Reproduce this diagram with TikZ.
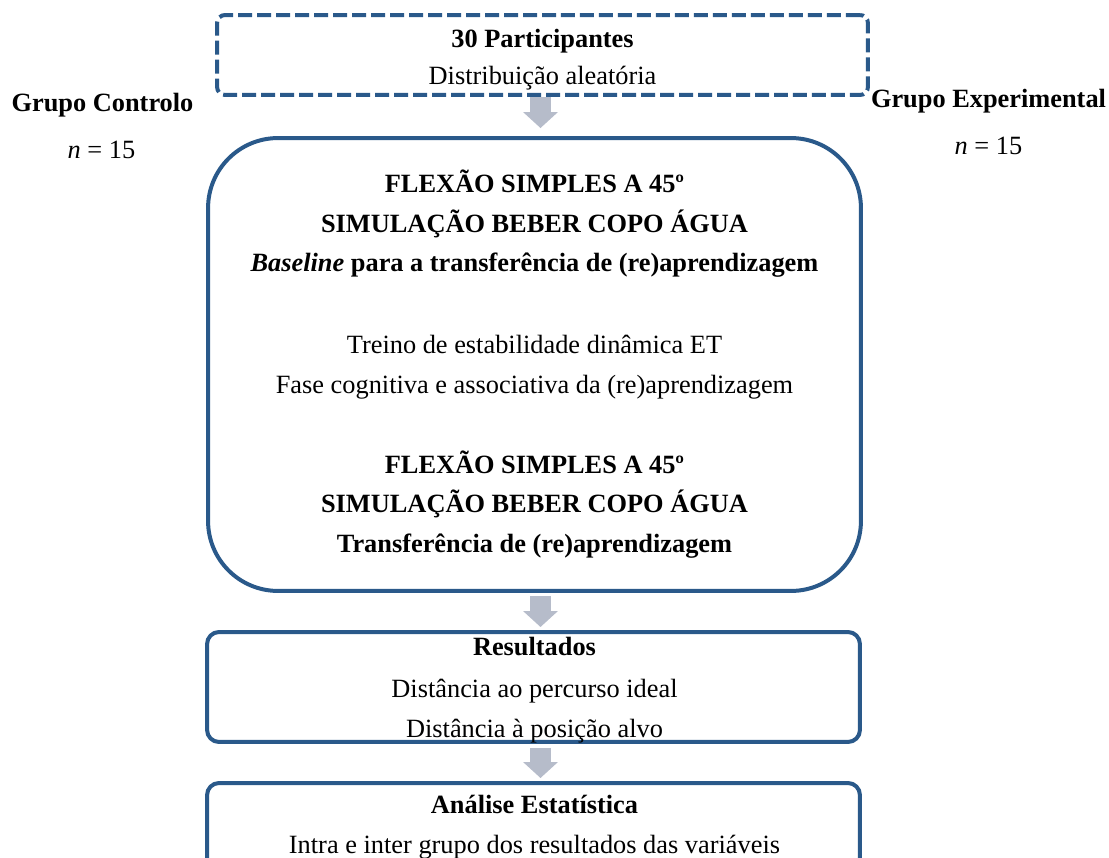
\documentclass[tikz,border=0pt]{standalone}
\usepackage{fontspec}
\setmainfont{Liberation Serif}
\usetikzlibrary{arrows.meta}
\definecolor{boxblue}{RGB}{42,89,138}
\definecolor{arrowgrey}{RGB}{182,188,202}

\begin{document}
\begin{tikzpicture}[x = 0.02cm, y = -0.02cm]
	\tikzstyle{textStyle} = [anchor = base, inner sep = 0pt, font = \fontsize{15}{18}\selectfont]
	\tikzstyle{titleStyle} = [textStyle, font = \fontsize{15}{18}\selectfont\bfseries]
	\tikzstyle{boxStyle} = [draw = boxblue, line width = 0.08cm, rounded corners = 0.24cm, inner sep = 0pt, minimum width = 13.06cm]
	\tikzstyle{dashedBoxStyle} = [boxStyle, rounded corners = 0.16cm, dash pattern = on 0.28cm off 0.1cm]
	\tikzstyle{roundBoxStyle} = [boxStyle, rounded corners = 1.4cm]
	\tikzstyle{arrowStyle} = [draw = arrowgrey, line width = 0.42cm, -{Triangle[length = 0.32cm, width = 0.68cm]}]
	\useasboundingbox (0, 0) rectangle (1109, 858);
	\clip (0, 0) rectangle (1109, 858);
	\coordinate (ax) at (540.5, 0);
	\node[style = dashedBoxStyle, minimum width = 13.02cm, minimum height = 1.6cm] (b0) at (542.5, 55) {};
	\node[style = roundBoxStyle, minimum height = 9.06cm] (b1) at (534.5, 364.5) {};
	\node[style = boxStyle, minimum height = 2.2cm] (b2) at (533.5, 687) {};
	\node[style = boxStyle, minimum height = 3cm] (b3) at (533.5, 858) {};
	\draw[style = arrowStyle, shorten > = 0.16cm] (b0.south -| ax) -- (b1.north -| ax);
	\draw[style = arrowStyle, shorten < = 0.06cm, shorten > = 0.06cm] (b1.south -| ax) -- (b2.north -| ax);
	\draw[style = arrowStyle, shorten < = 0.08cm, shorten > = 0.06cm] (b2.south -| ax) -- (b3.north -| ax);
	\node[style = titleStyle] (l0) at (542.5, 48) {30 Participantes};
	\node[style = textStyle] (l1) at (542.5, 85) {Distribuição aleatória};
	\node[style = titleStyle] (g0) at (102.5, 112) {Grupo Controlo};
	\node[style = textStyle] (g1) at (101.5, 159) {\textit{n} = 15};
	\node[style = titleStyle] (g2) at (988.5, 108) {Grupo Experimental};
	\node[style = textStyle] (g3) at (988.5, 155) {\textit{n} = 15};
	\node[style = titleStyle] (l2) at (534.5, 193) {FLEXÃO SIMPLES A 45º};
	\node[style = titleStyle] (l3) at (534.5, 233) {SIMULAÇÃO BEBER COPO ÁGUA};
	\node[style = titleStyle] (l4) at (534.5, 272) {\textit{Baseline} para a transferência de (re)aprendizagem};
	\node[style = textStyle] (l5) at (534.5, 353) {Treino de estabilidade dinâmica ET};
	\node[style = textStyle] (l6) at (534.5, 393) {Fase cognitiva e associativa da (re)aprendizagem};
	\node[style = titleStyle] (l7) at (534.5, 473) {FLEXÃO SIMPLES A 45º};
	\node[style = titleStyle] (l8) at (534.5, 512) {SIMULAÇÃO BEBER COPO ÁGUA};
	\node[style = titleStyle] (l9) at (534.5, 552) {Transferência de (re)aprendizagem};
	\node[style = titleStyle] (l10) at (534.5, 655) {Resultados};
	\node[style = textStyle] (l11) at (534.5, 697) {Distância ao percurso ideal};
	\node[style = textStyle] (l12) at (534.5, 737) {Distância à posição alvo};
	\node[style = titleStyle] (l13) at (534.5, 813) {Análise Estatística};
	\node[style = textStyle] (l14) at (534.5, 853) {Intra e inter grupo dos resultados das variáveis};
\end{tikzpicture}
\end{document}
